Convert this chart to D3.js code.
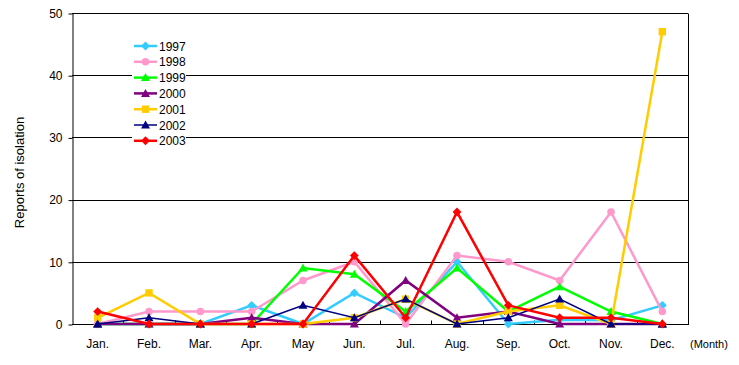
<!DOCTYPE html>
<html>
<head>
<meta charset="utf-8">
<script src="https://cdn.jsdelivr.net/npm/d3@7"></script>
<style>
  body { margin: 0; background: #fff; }
  text { font-family: "Liberation Sans", Arial, sans-serif; fill: #000; }
</style>
</head>
<body>
<div id="chart"></div>
<script>
// chart data
let months = ["Jan.", "Feb.", "Mar.", "Apr.", "May", "Jun.", "Jul.", "Aug.", "Sep.", "Oct.", "Nov.", "Dec."];
let years = ["1997", "1998", "1999", "2000", "2001", "2002", "2003"];
let yTicks = [0, 10, 20, 30, 40, 50];

let v1997 = [0, 0, 0, 3, 0, 5, 1, 10, 0, 0.7, 0.6, 3];
let v1998 = [0, 2, 2, 2, 7, 10, 0, 11, 10, 7, 18, 2];
let v1999 = [0, 0, 0, 0, 9, 8, 2, 9, 2, 6, 2, 0];
let v2000 = [0, 0, 0, 1, 0, 0, 7, 1, 2, 0, 0, 0];
let v2001 = [1, 5, 0, 0, 0, 1, 4, 0, 2, 3, 0, 47];
let v2002 = [0, 1, 0, 0, 3, 1, 4, 0, 1, 4, 0, 0];
let v2003 = [2, 0, 0, 0, 0, 11, 1, 18, 3, 1, 1, 0];

let seriesValues = [v1997, v1998, v1999, v2000, v2001, v2002, v2003];
let seriesColors = ["#33CCFF", "#FF99CC", "#00FF00", "#800080", "#FFCC00", "#000080", "#FF0000"];
let seriesMarkers = ["diamond", "circle", "triangle", "triangle", "square", "triangle", "diamond"];
let seriesWidths = [2, 2, 2, 2, 2, 1, 2];

let width = 739, height = 365;
let plot = {left: 72, right: 688, top: 13, bottom: 324};

let svg = d3.select("#chart").append("svg")
    .attr("width", width)
    .attr("height", height);

let x = d3.scaleBand().domain(months).range([plot.left, plot.right]);
let xEdge = d3.scaleLinear().domain([0, 12]).range([plot.left, plot.right]);
let y = d3.scaleLinear().domain([0, 50]).range([plot.bottom, plot.top]);

function cx(i) { return x(months[i]) + x.bandwidth() / 2; }

// gridlines
svg.append("g")
    .selectAll("line")
    .data(yTicks)
    .enter().append("line")
    .attr("x1", plot.left)
    .attr("x2", plot.right)
    .attr("y1", d => Math.round(y(d)) + 0.5)
    .attr("y2", d => Math.round(y(d)) + 0.5)
    .attr("stroke", "#000")
    .attr("stroke-width", 1);

// right border
svg.append("line")
    .attr("x1", plot.right + 0.5).attr("x2", plot.right + 0.5)
    .attr("y1", plot.top + 0.5).attr("y2", plot.bottom + 0.5)
    .attr("stroke", "#000");

// y axis
let yAxis = svg.append("g")
    .attr("transform", "translate(" + (plot.left + 0.5) + ",0.5)")
    .call(d3.axisLeft(y).tickValues(yTicks).tickSize(4).tickPadding(6).tickSizeOuter(0));
yAxis.selectAll("text").attr("font-size", "12px").attr("font-family", "Liberation Sans, Arial, sans-serif");
yAxis.select(".domain").attr("stroke", "#000");

// x axis: ticks at month boundaries, pointing up
let xAxis = svg.append("g")
    .attr("transform", "translate(0," + (plot.bottom + 0.5) + ")");
xAxis.append("line")
    .attr("x1", plot.left).attr("x2", plot.right + 1)
    .attr("stroke", "#000");
xAxis.selectAll(".tick")
    .data(d3.range(1, 12))
    .enter().append("line")
    .attr("class", "tick")
    .attr("x1", d => Math.round(xEdge(d)) + 0.5)
    .attr("x2", d => Math.round(xEdge(d)) + 0.5)
    .attr("y1", 0).attr("y2", -4)
    .attr("stroke", "#000");
xAxis.selectAll(".mlabel")
    .data(months)
    .enter().append("text")
    .attr("class", "mlabel")
    .attr("x", d => x(d) + x.bandwidth() / 2)
    .attr("y", 23)
    .attr("text-anchor", "middle")
    .attr("font-size", "12px")
    .text(d => d);
xAxis.append("text")
    .attr("x", 690)
    .attr("y", 23)
    .attr("font-size", "11px")
    .text("(Month)");

// y axis title
svg.append("text")
    .attr("transform", "translate(24," + ((plot.top + plot.bottom) / 2 + 4) + ") rotate(-90)")
    .attr("text-anchor", "middle")
    .attr("font-size", "13px")
    .text("Reports of isolation");

function markerPath(type) {
    if (type === "diamond") return d3.symbol().type(d3.symbolDiamond2).size(50)();
    if (type === "circle") return d3.symbol().type(d3.symbolCircle).size(45)();
    if (type === "square") return d3.symbol().type(d3.symbolSquare).size(55)();
    return "M0,-4.5L4.5,3.5L-4.5,3.5Z";
}

let line = d3.line()
    .x((d, i) => cx(i))
    .y(d => y(d));

// series
seriesValues.forEach(function (vals, s) {
    let g = svg.append("g").attr("class", "series");
    g.append("path")
        .datum(vals)
        .attr("d", line)
        .attr("fill", "none")
        .attr("stroke", seriesColors[s])
        .attr("stroke-width", seriesWidths[s] + 0.5);
    g.selectAll(".pt")
        .data(vals)
        .enter().append("path")
        .attr("class", "pt")
        .attr("transform", (d, i) => "translate(" + cx(i) + "," + y(d) + ")")
        .attr("d", markerPath(seriesMarkers[s]))
        .attr("fill", seriesColors[s]);
});

// legend
let legend = svg.append("g").attr("transform", "translate(134,46)");
years.forEach(function (yr, s) {
    let row = legend.append("g").attr("transform", "translate(0," + (s * 15.8) + ")");
    row.append("rect")
        .attr("x", -2).attr("y", -7).attr("width", 54).attr("height", 14)
        .attr("fill", "#fff");
    row.append("line")
        .attr("x1", 0).attr("x2", 23)
        .attr("stroke", seriesColors[s])
        .attr("stroke-width", seriesWidths[s] + 0.5);
    row.append("path")
        .attr("transform", "translate(11.5,0)")
        .attr("d", markerPath(seriesMarkers[s]))
        .attr("fill", seriesColors[s]);
    row.append("text")
        .attr("x", 25)
        .attr("y", 4.5)
        .attr("font-size", "12px")
        .text(yr);
});
</script>
</body>
</html>
